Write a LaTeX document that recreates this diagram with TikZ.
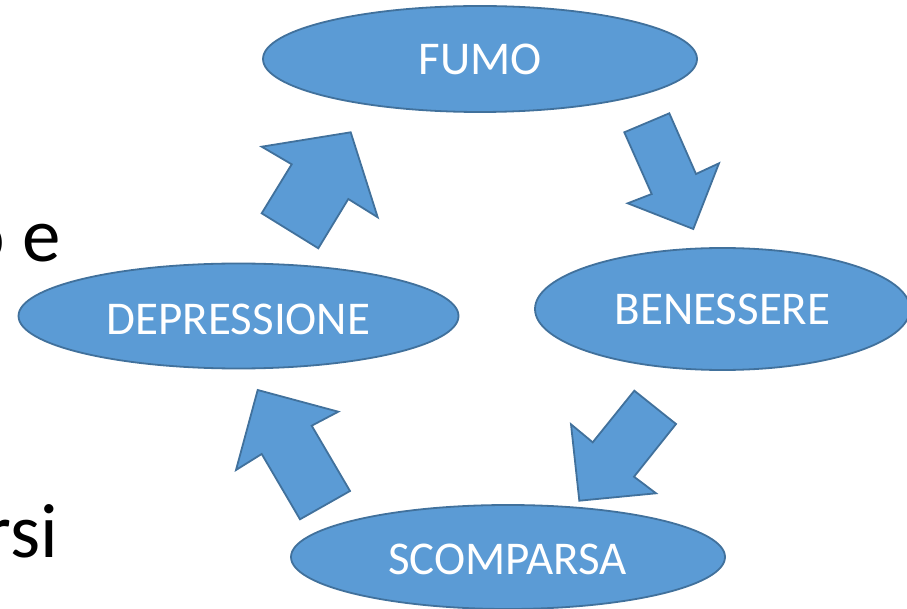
\documentclass[tikz,border=0pt]{standalone}
\usepackage{fontspec}
\setmainfont{Carlito}
\usetikzlibrary{shapes.geometric}
\definecolor{ofill}{HTML}{5B9BD5}
\definecolor{oline}{HTML}{41719C}
\tikzset{
  bubble/.style={ellipse, draw=oline, fill=ofill, line width=1.8pt, inner sep=0pt,
    text=white, font=\fontsize{47}{56}\selectfont},
  blockarrow/.style={draw=oline, fill=ofill, line width=1.8pt, line join=miter},
  slidetext/.style={text=black, font=\fontsize{77}{90}\selectfont, inner sep=0pt}
}
\begin{document}
\begin{tikzpicture}[x=1pt,y=-1pt]
\clip (0,0) rectangle (907,609);
\fill[white] (0,0) rectangle (907,609);

% partial slide text at the left
\node[slidetext, anchor=base east] (t1) at (61,262) {o e};
\node[slidetext, anchor=base east] (t2) at (58,557) {rsi};

% ellipses
\node[bubble, minimum width=434pt, minimum height=106pt] (fumo) at (480,59) {FUMO};
\node[bubble, minimum width=375pt, minimum height=122pt] (ben) at (722.5,309) {BENESSERE};
\node[bubble, minimum width=440pt, minimum height=105pt] (dep) at (238.5,316) {};
\node[text=white, font=\fontsize{47}{56}\selectfont, inner sep=0pt] (deplabel) at (238.5,319) {DEPRESSIONE};
\node[bubble, minimum width=434pt, minimum height=104pt] (sco) at (508,557) {};
\node[text=white, font=\fontsize{47}{56}\selectfont, inner sep=0pt] (scolabel) at (507.5,559) {SCOMPARSA};

% block arrows
\draw[blockarrow] (350.7,132.3) -- (377.7,217.3) -- (348.3,199) -- (318.3,248.3)
  -- (261.7,213.3) -- (291.7,164.3) -- (261.7,146.7) -- cycle;
\draw[blockarrow] (624.3,132.3) -- (669.3,113.3) -- (696,174) -- (719,163.3)
  -- (693.3,229) -- (627.7,203.3) -- (651.7,194) -- cycle;
\draw[blockarrow] (634.3,390.7) -- (676,424) -- (634,476.7) -- (656,493.3)
  -- (579.3,500.7) -- (571,424.3) -- (592.7,442.3) -- cycle;
\draw[blockarrow] (257.7,390) -- (338.3,411.7) -- (311.7,425.7) -- (350,491)
  -- (300,519.3) -- (261.7,454) -- (236,470) -- cycle;
\end{tikzpicture}
\end{document}
